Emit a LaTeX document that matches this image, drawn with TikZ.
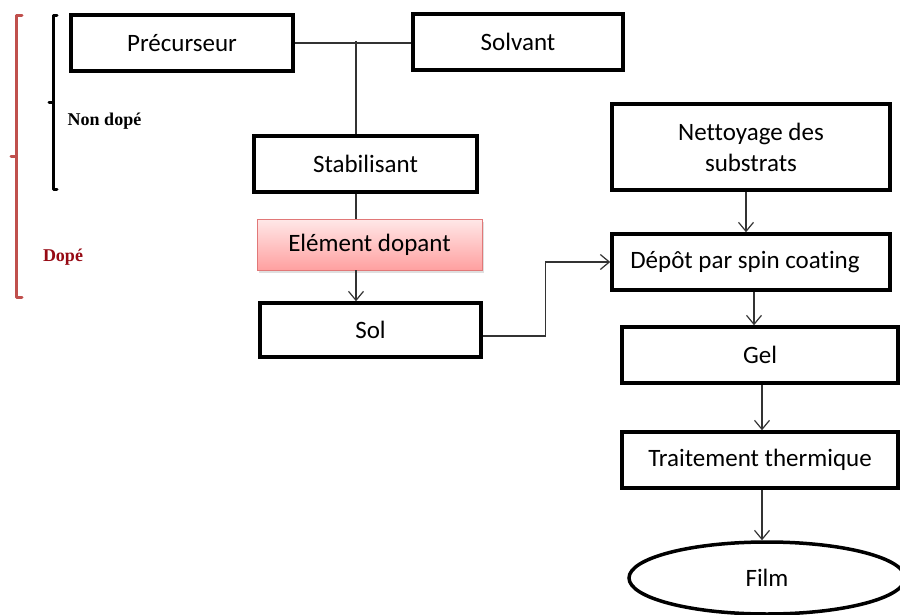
\documentclass[tikz,border=0pt]{standalone}
\usepackage{fontspec}
\setmainfont{Carlito}[Ligatures=NoCommon]
\newfontfamily\timesfont{Liberation Serif}
\usetikzlibrary{shapes.geometric,arrows.meta,shadows}
\definecolor{dopred}{RGB}{150,10,20}
\definecolor{brackred}{RGB}{192,80,77}
\definecolor{pinktop}{RGB}{255,232,232}
\definecolor{pinkbot}{RGB}{255,160,160}
\definecolor{pinkline}{RGB}{225,120,120}
\begin{document}
\begin{tikzpicture}[x=1pt,y=-1pt,font=\fontsize{25}{31}\selectfont]
        \tikzstyle{stage}=[rectangle,draw=black,line width=3.5pt,fill=white,minimum height=56pt,inner sep=2pt]
        \tikzstyle{dopant}=[rectangle,draw=pinkline,line width=0.8pt,top color=pinktop,bottom color=pinkbot,
          drop shadow={shadow xshift=2pt,shadow yshift=-3pt,opacity=0.25},minimum width=225pt,minimum height=51pt]
        \tikzstyle{link}=[draw=black!80,line width=1.3pt]
        \tikzstyle{flow}=[link,-{Straight Barb[length=9pt,width=15pt,line width=1.2pt]}]
        \tikzstyle{bracket}=[line width=3pt,line cap=round,line join=round]
        \useasboundingbox (0,0) rectangle (900,615);
       % preparation of the sol
       \begin{scope}
         \node [stage,minimum width=222pt] (prec) at (182,43) {Précurseur};
         \node [stage,minimum width=210pt] (solv) at (518,42) {Solvant};
         \node [stage,minimum width=223pt] (stab) at (365.5,164) {Stabilisant};
         \node [dopant] (dop) at (369.5,244.5) {Elément dopant};
         \node [stage,minimum width=221pt,minimum height=54pt] (sol) at (370.5,330) {Sol};
         \coordinate (mix) at (356,41);
         \path[link] (prec.east) -- (prec.east -| solv.west);
         \path[link] (mix) -- (mix |- stab.north);
         \path[link] (stab.south -| mix) -- (dop.north -| mix);
         \path[flow] (dop.south -| mix) -- (sol.north -| mix);
       \end{scope}
       % deposition of the film
       \begin{scope}
         \node [stage,minimum width=278pt,minimum height=86pt,align=center] (net) at (751,147) {Nettoyage des\\substrats};
         \node [stage,minimum width=278pt] (dep) at (751,262) {Dépôt par spin coating\hspace*{12pt}};
         \node [stage,minimum width=276pt] (gel) at (760,355) {Gel};
         \node [stage,minimum width=276pt] (trait) at (760,460) {Traitement thermique};
         \node [ellipse,draw=black,line width=3.5pt,minimum width=276pt,minimum height=72pt] (film) at (767,578) {Film};
         \path[flow] ([xshift=-5pt]net.south) -- ([xshift=-5pt]net.south |- dep.north);
         \path[flow] ([yshift=-6pt]sol.east) -- ++(63,0) |- (dep.west);
         \path[flow] ([xshift=3pt]dep.south) -- ([xshift=3pt]dep.south |- gel.north);
         \path[flow] ([xshift=2pt]gel.south) -- ([xshift=2pt]gel.south |- trait.north);
         \path[flow] ([xshift=2pt]trait.south) -- ([xshift=2pt]trait.south |- film.north);
       \end{scope}
       % brackets on the left
       \begin{scope}
         \draw[bracket] (57,16) -- (53,16) -- (53,190) -- (57,190);
         \draw[bracket] (53,103) -- (49,103);
         \draw[bracket,brackred] (22,16) -- (16,16) -- (16,297) -- (22,297);
         \draw[bracket,brackred] (16,157) -- (11,157);
         \node[font=\timesfont\bfseries\fontsize{18}{20}\selectfont] (nondop) at (104.5,121) {Non dopé};
         \node[font=\timesfont\bfseries\fontsize{18}{20}\selectfont,text=dopred] (dopl) at (63,257) {Dopé};
       \end{scope}
      \end{tikzpicture}
\end{document}
